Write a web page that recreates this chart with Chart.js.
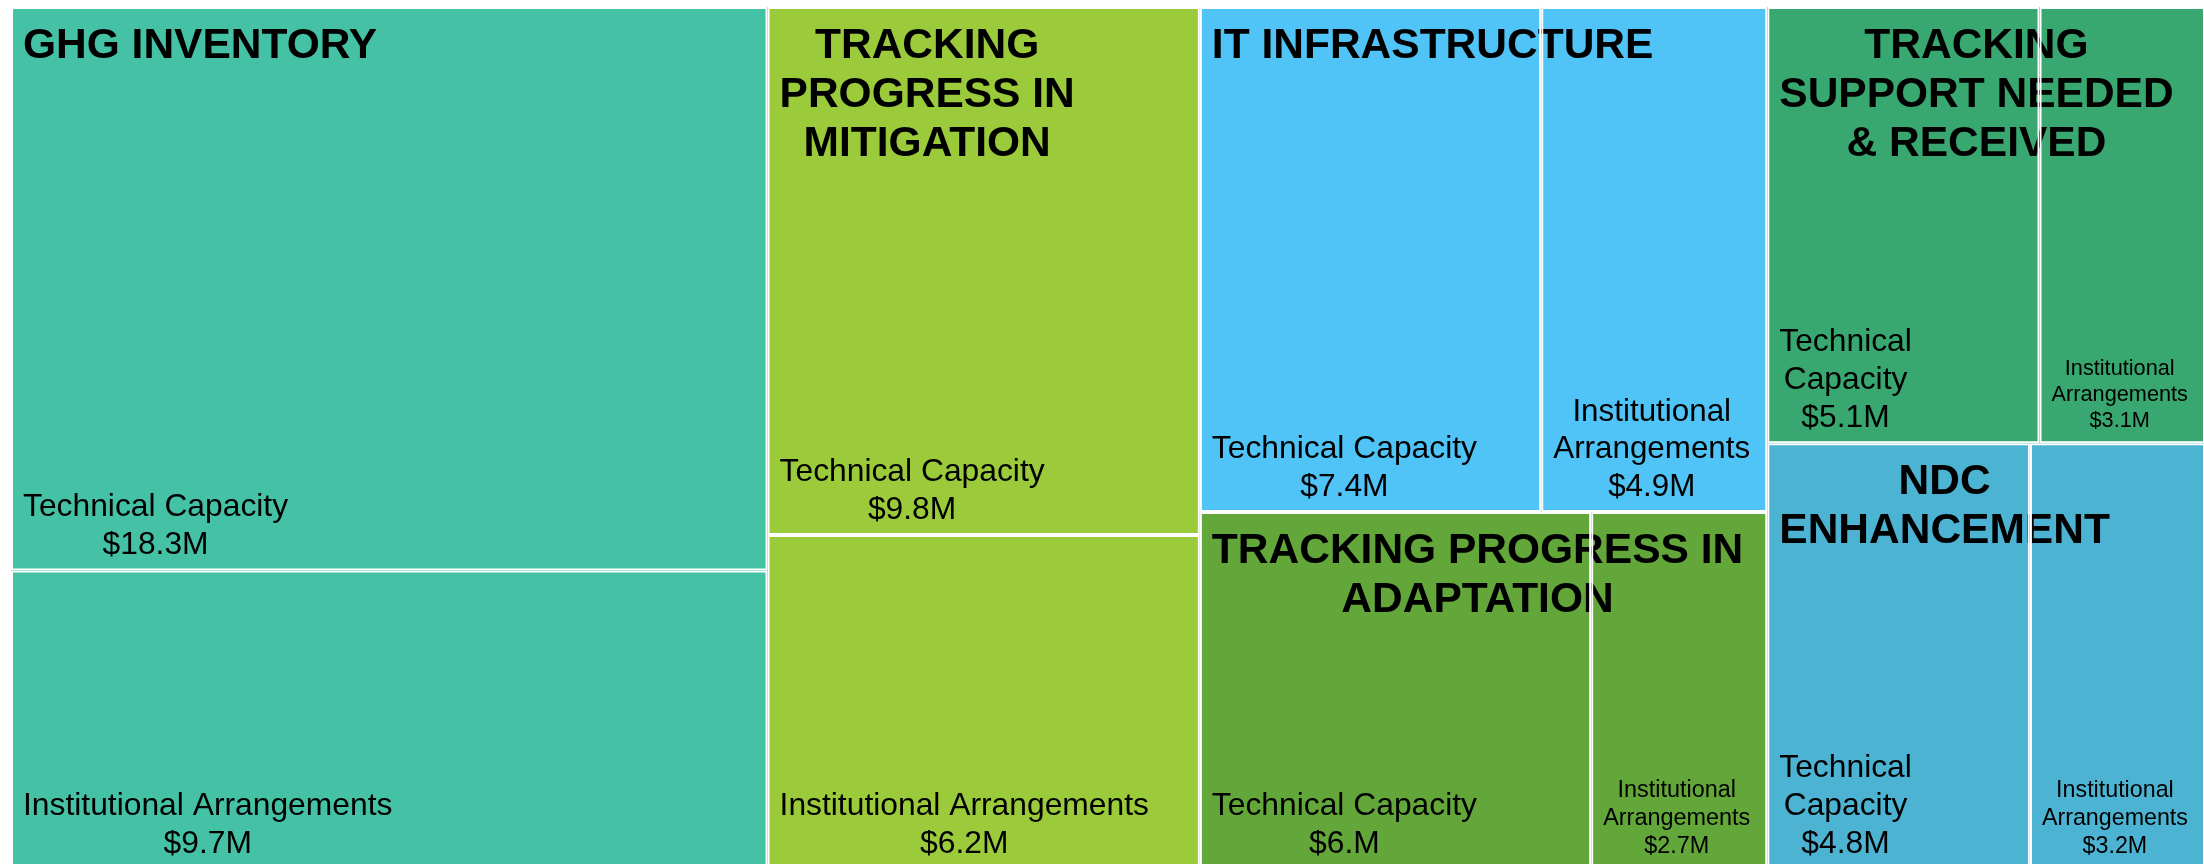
<!DOCTYPE html>
<html>
<head>
<meta charset="utf-8">
<style>
  html, body { margin: 0; padding: 0; background: #ffffff; overflow: hidden; width: 2204px; height: 864px; }
  #wrap { position: absolute; left: 0; top: 0; width: 2206px; height: 869px; }
  canvas { display: block; }
</style>
<script src="https://cdn.jsdelivr.net/npm/chart.js@4.4.1/dist/chart.umd.min.js"></script>
</head>
<body>
<div id="wrap"><canvas id="c" width="2206" height="869" style="width:2206px;height:869px"></canvas></div>
<script>
// ---------------- DATA ----------------
const parentNames = [
  'GHG INVENTORY',
  'TRACKING PROGRESS IN MITIGATION',
  'IT INFRASTRUCTURE',
  'TRACKING PROGRESS IN ADAPTATION',
  'TRACKING SUPPORT NEEDED & RECEIVED',
  'NDC ENHANCEMENT'
];
const childNames = ['Technical Capacity', 'Institutional Arrangements'];
const technicalCapacity = [18.3, 9.8, 7.4, 6.0, 5.1, 4.8];          // $M
const institutionalArrangements = [9.7, 6.2, 4.9, 2.7, 3.1, 3.2];  // $M
const parentColors = ['#45C2A5', '#9BCB3B', '#50C3F7', '#63A639', '#39A870', '#4DB3D2'];

// leaves built from the arrays above
const leafValues = [], leafGroups = [], leafNames = [], leafColors = [];
parentNames.forEach((p, i) => {
  [technicalCapacity[i], institutionalArrangements[i]].forEach((v, k) => {
    leafValues.push(v);
    leafGroups.push(i);
    leafNames.push(childNames[k]);
    leafColors.push(parentColors[i]);
  });
});

function fmtValue(v) {
  return '$' + (Number.isInteger(v) ? v + '.' : v.toFixed(1)) + 'M';
}

// ---------------- squarified layout ----------------
function worst(row, s) {
  let sum = 0; row.forEach(r => sum += r.a);
  let mx = 0;
  row.forEach(r => {
    mx = Math.max(mx, (s * s * r.a) / (sum * sum), (sum * sum) / (s * s * r.a));
  });
  return mx;
}
function squarify(vals, idx, x, y, w, h, out) {
  const items = idx.map((i, k) => ({ i: i, v: vals[k] })).sort((a, b) => b.v - a.v);
  let total = 0; items.forEach(it => total += it.v);
  const sc = (w * h) / total;
  items.forEach(it => it.a = it.v * sc);
  let rest = items;
  while (rest.length) {
    const s = Math.min(w, h);
    let n = 1;
    while (n < rest.length && worst(rest.slice(0, n + 1), s) <= worst(rest.slice(0, n), s)) n++;
    const row = rest.slice(0, n);
    let ra = 0; row.forEach(r => ra += r.a);
    if (w >= h) {
      const cw = ra / h; let yy = y;
      row.forEach(it => { const rh = it.a / cw; out[it.i] = { x: x, y: yy, w: cw, h: rh }; yy += rh; });
      x += cw; w -= cw;
    } else {
      const rh = ra / w; let xx = x;
      row.forEach(it => { const rw = it.a / rh; out[it.i] = { x: xx, y: y, w: rw, h: rh }; xx += rw; });
      y += rh; h -= rh;
    }
    rest = rest.slice(n);
  }
  return out;
}

// ---------------- custom treemap controller ----------------
class TreemapController extends Chart.BarController {
  update(mode) {
    const meta = this._cachedMeta;
    this.updateElements(meta.data, 0, meta.data.length, mode);
  }
  updateElements(rects, start, count, mode) {
    const chart = this.chart;
    const area = chart.chartArea;
    const xs = chart.scales.x, ys = chart.scales.y;
    const ds = this.getDataset();
    const values = ds.data, groups = ds.groups;
    const W = area.right - area.left, H = area.bottom - area.top;
    const nParents = Math.max.apply(null, groups) + 1;
    const totals = new Array(nParents).fill(0);
    values.forEach((v, i) => totals[groups[i]] += v);
    const pIdx = totals.map((t, i) => i);
    const pRects = squarify(totals, pIdx, 0, 0, W, H, []);
    const leaf = [];
    for (let p = 0; p < nParents; p++) {
      const idx = [], vals = [];
      values.forEach((v, i) => { if (groups[i] === p) { idx.push(i); vals.push(v); } });
      const r = pRects[p];
      squarify(vals, idx, r.x, r.y, r.w, r.h, leaf);
    }
    for (let i = start; i < start + count; i++) {
      const r = leaf[i];
      const l = xs.getPixelForValue(r.x / W), rr = xs.getPixelForValue((r.x + r.w) / W);
      const t = ys.getPixelForValue(r.y / H), b = ys.getPixelForValue((r.y + r.h) / H);
      const props = {
        horizontal: false,
        x: (l + rr) / 2, y: t, base: b, width: rr - l, height: b - t,
        inflateAmount: 0, borderSkipped: {}, enableBorderRadius: false,
        options: this.resolveDataElementOptions(i, rects[i].active ? 'active' : mode)
      };
      this.updateElement(rects[i], i, props, mode);
    }
  }
}
TreemapController.id = 'treemap';
TreemapController.defaults = Object.assign({}, Chart.BarController.defaults);
TreemapController.overrides = { scales: { x: { type: 'linear' }, y: { type: 'linear' } } };
Chart.register(TreemapController);

// ---------------- labels ----------------
const BORDER = 2;
const FONT = '"Liberation Sans", Arial, Helvetica, sans-serif';
const CHILD_SIZE = 31.8;
const PARENT_SIZE = 42.5;

function wrapText(ctx, text, maxW) {
  const words = text.split(' ');
  const lines = [];
  let cur = '';
  words.forEach(w => {
    const test = cur ? cur + ' ' + w : w;
    if (cur && ctx.measureText(test).width > maxW) { lines.push(cur); cur = w; }
    else cur = test;
  });
  if (cur) lines.push(cur);
  return lines;
}
function drawBlock(ctx, lines, left, baselines) {
  let bw = 0;
  const ws = lines.map(l => { const w = ctx.measureText(l).width; bw = Math.max(bw, w); return w; });
  lines.forEach((l, k) => ctx.fillText(l, left + (bw - ws[k]) / 2, baselines[k]));
}

const labelPlugin = {
  id: 'treemapLabels',
  afterDatasetDraw(chart, args) {
    if (args.index !== 0) return;
    const ctx = chart.ctx;
    const meta = chart.getDatasetMeta(0);
    const boxes = {};
    ctx.save();
    ctx.fillStyle = '#000000';
    ctx.textBaseline = 'alphabetic';
    ctx.textAlign = 'left';
    meta.data.forEach((el, i) => {
      const p = el.getProps(['x', 'y', 'base', 'width'], true);
      const ol = p.x - p.width / 2, or = p.x + p.width / 2;
      const ot = Math.min(p.y, p.base), ob = Math.max(p.y, p.base);
      const g = leafGroups[i];
      if (!boxes[g]) boxes[g] = { l: ol, r: or, t: ot, b: ob };
      else {
        boxes[g].l = Math.min(boxes[g].l, ol); boxes[g].r = Math.max(boxes[g].r, or);
        boxes[g].t = Math.min(boxes[g].t, ot); boxes[g].b = Math.max(boxes[g].b, ob);
      }
      const l = ol + BORDER, r = or - BORDER, b = ob - BORDER;
      const fw = r - l;
      const valueText = fmtValue(leafValues[i]);
      ctx.font = '100px ' + FONT;
      let wordMax = 0;
      leafNames[i].split(' ').concat([valueText]).forEach(w => {
        wordMax = Math.max(wordMax, ctx.measureText(w).width / 100);
      });
      const size = Math.min(CHILD_SIZE, (fw - 25) / wordMax);
      ctx.font = size + 'px ' + FONT;
      const lines = wrapText(ctx, leafNames[i], fw - 24);
      lines.push(valueText);
      const lh = size * 1.2;
      const last = b - 14;
      const baselines = lines.map((l2, k) => last - (lines.length - 1 - k) * lh);
      drawBlock(ctx, lines, l + 10, baselines);
    });
    ctx.font = 'bold ' + PARENT_SIZE + 'px ' + FONT;
    Object.keys(boxes).forEach(g => {
      const bx = boxes[g];
      const l = bx.l + BORDER, r = bx.r - BORDER, t = bx.t + BORDER;
      const lines = wrapText(ctx, parentNames[g], (r - l) - 24);
      const baselines = lines.map((l2, k) => t + 49 + k * 49);
      drawBlock(ctx, lines, l + 10, baselines);
    });
    ctx.restore();
  }
};

// ---------------- chart ----------------
new Chart(document.getElementById('c'), {
  type: 'treemap',
  data: {
    labels: leafNames,
    datasets: [
      {
        label: 'cells',
        data: leafValues,
        groups: leafGroups,
        backgroundColor: leafColors,
        borderWidth: 0,
        borderSkipped: false,
        order: 1
      },
      {
        label: 'borders',
        data: leafValues,
        groups: leafGroups,
        backgroundColor: 'rgba(0,0,0,0)',
        borderColor: '#ffffff',
        borderWidth: BORDER,
        borderSkipped: false,
        order: 0
      }
    ]
  },
  options: {
    responsive: false,
    maintainAspectRatio: false,
    devicePixelRatio: 1,
    animation: false,
    events: [],
    layout: { padding: { left: 11, top: 7, right: 1, bottom: 0 } },
    scales: {
      x: { type: 'linear', min: 0, max: 1, display: false },
      y: { type: 'linear', min: 0, max: 1, reverse: true, display: false }
    },
    plugins: {
      legend: { display: false },
      tooltip: { enabled: false }
    }
  },
  plugins: [labelPlugin]
});
</script>
</body>
</html>
